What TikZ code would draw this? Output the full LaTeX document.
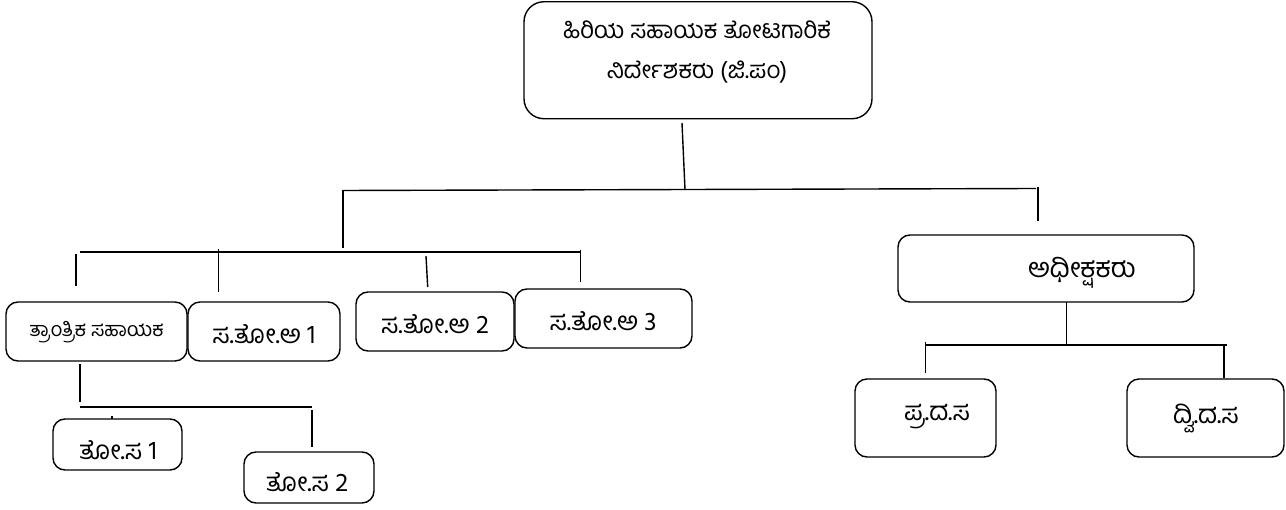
\documentclass[tikz,border=0pt]{standalone}
\usepackage{fontspec}
\newfontfamily\kn[Script=Kannada]{Hind Mysuru}
\begin{document}
\begin{tikzpicture}[x=1pt,y=-1pt,
  box/.style={draw=black,line width=1.4pt,rounded corners=12pt,inner sep=0pt},
  lbl/.style={font=\kn\fontsize{26}{30}\selectfont,inner sep=0pt,text=black},
  lblsmall/.style={font=\kn\fontsize{20}{24}\selectfont,inner sep=0pt,text=black},
  conn/.style={draw=black,line width=1.4pt}]
\useasboundingbox (0,0) rectangle (1286,510);
% boxes
\node[box,rounded corners=20pt,minimum width=348pt,minimum height=117pt] (top) at (698,60.25) {};
\node[box,minimum width=181pt,minimum height=59pt] (tan) at (96.5,331.5) {};
\node[box,minimum width=152pt,minimum height=59pt] (sta1) at (264,331.5) {};
\node[box,minimum width=158pt,minimum height=59pt] (sta2) at (435,321.5) {};
\node[box,minimum width=177pt,minimum height=59pt] (sta3) at (603.5,318.5) {};
\node[box,minimum width=129pt,minimum height=51pt] (tosa1) at (117.5,444.5) {};
\node[box,minimum width=130pt,minimum height=51pt] (tosa2) at (309,477.5) {};
\node[box,minimum width=296pt,minimum height=67pt] (adhi) at (1046,268.5) {};
\node[box,minimum width=141pt,minimum height=78pt] (prada) at (925.5,418) {};
\node[box,minimum width=157pt,minimum height=78pt] (dvida) at (1205.5,418) {};
% labels
\node[lbl,align=center,font=\kn\fontsize{24}{40}\selectfont] (ttop) at (697,52) {ಹಿರಿಯ ಸಹಾಯಕ ತೋಟಗಾರಿಕೆ\\ನಿರ್ದೇಶಕರು (ಜಿ.ಪಂ)};
\node[lblsmall] (ttan) at (96.5,332) {ತ್ರಾಂತ್ರಿಕ ಸಹಾಯಕ};
\node[lbl] (tsta1) at (264,334) {ಸ.ತೋ.ಅ 1};
\node[lbl] (tsta2) at (435,324) {ಸ.ತೋ.ಅ 2};
\node[lbl] (tsta3) at (603,321) {ಸ.ತೋ.ಅ 3};
\node[lbl] (ttosa1) at (118,450) {ತೋ.ಸ 1};
\node[lbl] (ttosa2) at (307,482) {ತೋ.ಸ 2};
\node[lbl,font=\kn\fontsize{27}{30}\selectfont] (tadhi) at (1082,273) {ಅಧೀಕ್ಷಕರು};
\node[lbl] (tprada) at (937,417) {ಪ್ರ.ದ.ಸ};
\node[lbl] (tdvida) at (1206,418) {ದ್ವಿ.ದ.ಸ};
% junction coordinates
\coordinate (c1) at (682,123);
\coordinate (c2) at (685,189.5);
\coordinate (m1) at (343,190.5);
\coordinate (m2) at (1036,188.5);
\coordinate (r1) at (1038,187);
\coordinate (r2) at (1038,221);
\coordinate (l1) at (343,248);
\coordinate (h1) at (80,252);
\coordinate (h2) at (581,252);
\coordinate (k1a) at (76,254);   \coordinate (k1b) at (76,286);
\coordinate (k2a) at (218.7,249); \coordinate (k2b) at (218.7,292);
\coordinate (k3a) at (426,256);  \coordinate (k3b) at (427.7,287);
\coordinate (k4a) at (580.5,250); \coordinate (k4b) at (580.5,282);
\coordinate (s1) at (80,364);    \coordinate (s2) at (80,402);
\coordinate (sh1) at (80,407);   \coordinate (sh2) at (312,407);
\coordinate (sk1a) at (112,416.5); \coordinate (sk1b) at (112,419.5);
\coordinate (sk2a) at (312,410); \coordinate (sk2b) at (312,447);
\coordinate (a1) at (1066.7,302); \coordinate (a2) at (1066.7,345);
\coordinate (ah1) at (926,345);  \coordinate (ah2) at (1227,345);
\coordinate (ak1a) at (925.3,342); \coordinate (ak1b) at (925.3,373);
\coordinate (ak2a) at (1224,345); \coordinate (ak2b) at (1224,378);
% connectors
\draw[conn] (c1) -- (c2);
\draw[conn] (m1) -- (m2);
\draw[conn] (r1) -- (r2);
\draw[conn] (m1) -- (l1);
\draw[conn] (h1) -- (h2);
\draw[conn] (k1a) -- (k1b);
\draw[conn] (k2a) -- (k2b);
\draw[conn] (k3a) -- (k3b);
\draw[conn] (k4a) -- (k4b);
\draw[conn] (s1) -- (s2);
\draw[conn] (sh1) -- (sh2);
\draw[conn] (sk1a) -- (sk1b);
\draw[conn] (sk2a) -- (sk2b);
\draw[conn] (a1) -- (a2);
\draw[conn] (ah1) -- (ah2);
\draw[conn] (ak1a) -- (ak1b);
\draw[conn] (ak2a) -- (ak2b);
\end{tikzpicture}
\end{document}
